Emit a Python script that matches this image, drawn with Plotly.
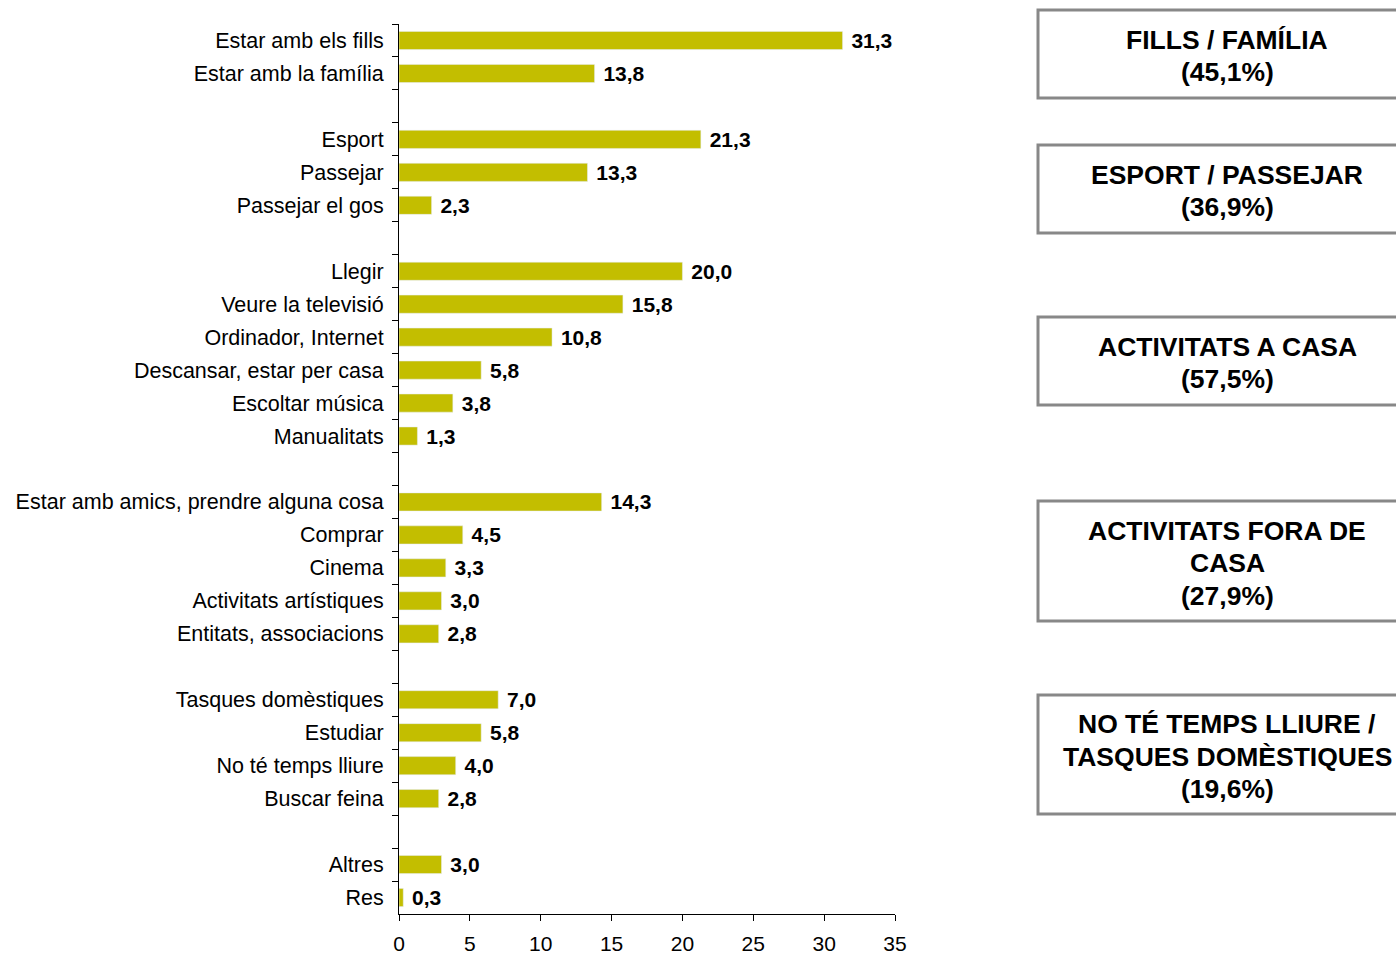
import plotly.graph_objects as go

# activities, top to bottom; blank entries are the gaps between groups
categories = [
    "Estar amb els fills", "Estar amb la família", " ",
    "Esport", "Passejar", "Passejar el gos", "  ",
    "Llegir", "Veure la televisió", "Ordinador, Internet",
    "Descansar, estar per casa", "Escoltar música", "Manualitats", "   ",
    "Estar amb amics, prendre alguna cosa", "Comprar", "Cinema",
    "Activitats artístiques", "Entitats, associacions", "    ",
    "Tasques domèstiques", "Estudiar", "No té temps lliure", "Buscar feina", "     ",
    "Altres", "Res",
]
values = [
    31.3, 13.8, None,
    21.3, 13.3, 2.3, None,
    20.0, 15.8, 10.8, 5.8, 3.8, 1.3, None,
    14.3, 4.5, 3.3, 3.0, 2.8, None,
    7.0, 5.8, 4.0, 2.8, None,
    3.0, 0.3,
]

group_labels = [
    ["FILLS / FAMÍLIA", "(45,1%)"],
    ["ESPORT / PASSEJAR", "(36,9%)"],
    ["ACTIVITATS A CASA", "(57,5%)"],
    ["ACTIVITATS FORA DE", "CASA", "(27,9%)"],
    ["NO TÉ TEMPS LLIURE /", "TASQUES DOMÈSTIQUES", "(19,6%)"],
]
# box extents in page pixels (top, bottom)
group_boxes = [(10, 98), (145, 233), (317, 405), (501, 621), (695, 814)]

# body margin is removed in post_script, so the figure fills the window
W, H = 1396, 955
L, T = 399, 24
R, B = W - 895, H - 914
pw, ph = W - L - R, H - T - B

def px_x(p):
    return (p - L) / pw

def px_y(p):
    return (H - B - p) / ph

FONT = "Liberation Sans, Arial"

fig = go.Figure(go.Bar(
    x=values, y=categories, orientation="h",
    marker_color="#C3BE00", width=0.55,
    texttemplate="\u00a0<b>%{x:.1f}</b>", textposition="outside",
    constraintext="none",
    textfont=dict(size=21, color="black", family=FONT),
    cliponaxis=False,
))

for (top, bot), lines in zip(group_boxes, group_labels):
    fig.add_shape(type="rect", xref="paper", yref="paper",
                  x0=px_x(1038), x1=px_x(1420), y0=px_y(bot), y1=px_y(top),
                  line=dict(color="#888888", width=3), fillcolor="white")
    mid = (top + bot) / 2 + 2
    n = len(lines)
    for i, line in enumerate(lines):
        fig.add_annotation(xref="paper", yref="paper", x=px_x(1227),
                           y=px_y(mid + (i - (n - 1) / 2) * 32.5),
                           text="<b>" + line + "</b>", showarrow=False,
                           font=dict(size=26.5, color="black", family=FONT),
                           xanchor="center", yanchor="middle")

fig.update_layout(
    width=W, height=H, margin=dict(l=L, r=R, t=T, b=B),
    plot_bgcolor="white", paper_bgcolor="white",
    separators=",.", showlegend=False,
    font=dict(family=FONT, size=21, color="black"),
)
fig.update_xaxes(range=[0, 35], dtick=5, tick0=0, showgrid=False, zeroline=False,
                 showline=True, linecolor="black", linewidth=1, automargin=False,
                 ticks="outside", ticklen=6, tickcolor="black",
                 ticklabelstandoff=5, tickfont=dict(size=21))
fig.update_yaxes(autorange="reversed", showgrid=False, showline=True,
                 linecolor="black", linewidth=1, ticks="outside", ticklen=6,
                 automargin=False,
                 tickcolor="black", tickson="boundaries", ticklabelstandoff=10,
                 tickfont=dict(size=21.5))

fig.write_html("out.html", config={"displayModeBar": False},
               post_script="document.body.style.margin='0';document.body.style.overflow='hidden';")
